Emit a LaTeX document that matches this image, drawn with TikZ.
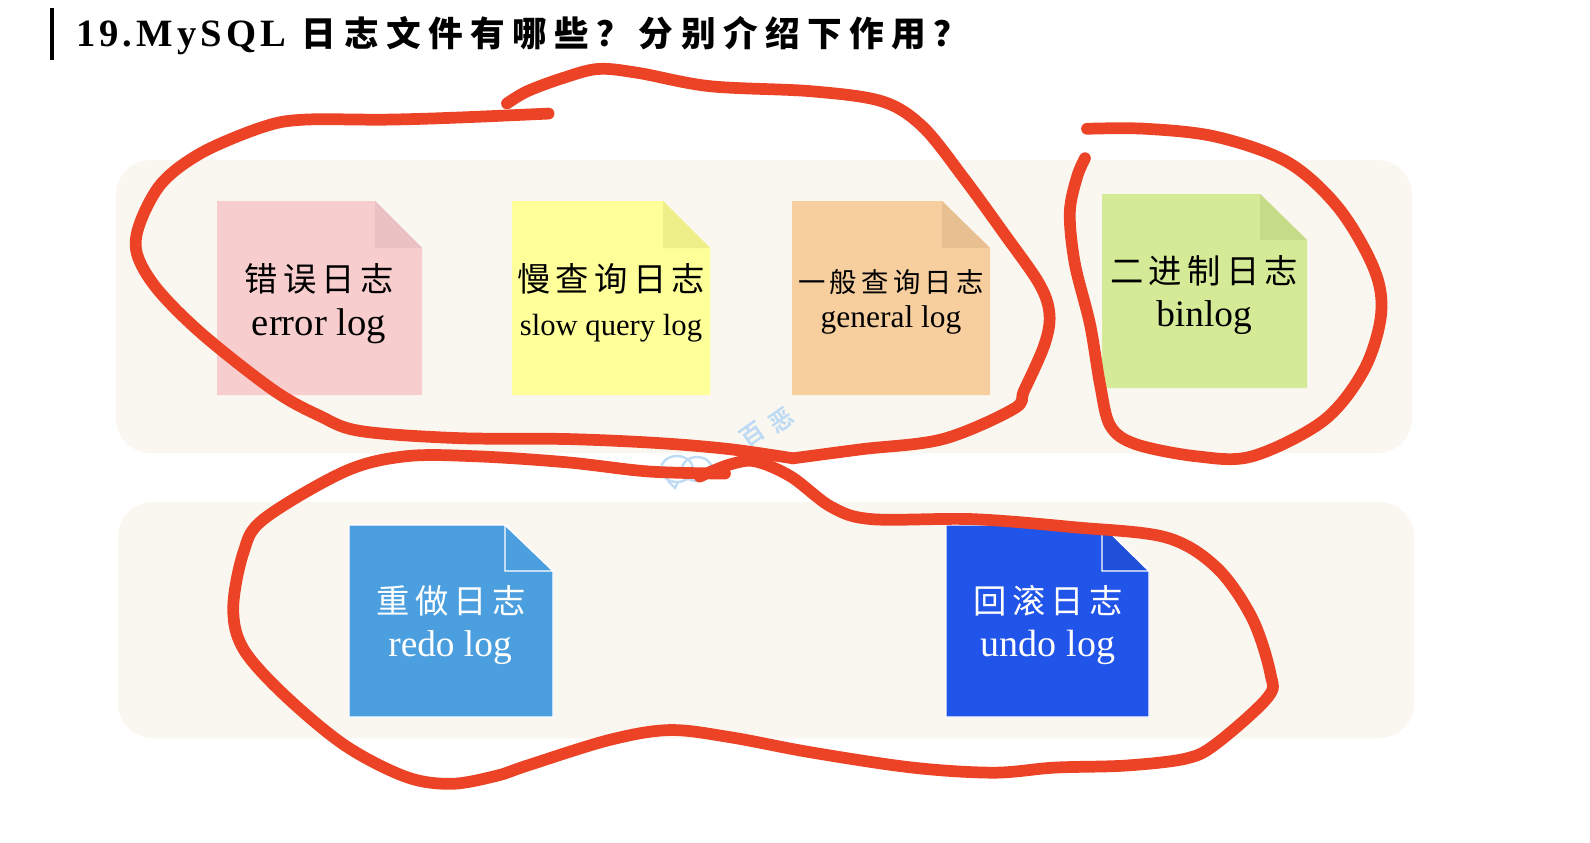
\documentclass[tikz,border=0pt]{standalone}
\usepackage{fontspec}
\setmainfont{Liberation Serif}
\newfontfamily\cjkr{Noto Sans CJK SC}
\newfontfamily\cjkb{Noto Sans CJK SC Bold}
\definecolor{panelc}{HTML}{FAF7F0}
\definecolor{penred}{HTML}{EC4326}
\definecolor{wm}{HTML}{BFDBF4}
\definecolor{docpink}{HTML}{F8CDCE}
\definecolor{docpinkf}{HTML}{EAC0C2}
\definecolor{docyel}{HTML}{FFFF99}
\definecolor{docyelf}{HTML}{EFEF8A}
\definecolor{docora}{HTML}{F7CE9E}
\definecolor{docoraf}{HTML}{E8BF90}
\definecolor{docgrn}{HTML}{D5EA96}
\definecolor{docgrnf}{HTML}{C6DB88}
\definecolor{docblu}{HTML}{4C9FDF}
\definecolor{docdrk}{HTML}{2154E8}
\definecolor{docdrkf}{HTML}{2150D8}
\tikzset{
  panel/.style={fill=panelc,draw=none,rounded corners=26pt},
  pen/.style={draw=penred,line width=8.8pt,line cap=round,line join=round},
  lab/.style={anchor=base,inner sep=0pt,outer sep=0pt},
}
\newcommand{\docpage}[8]{%
  \fill[#7] (#1,#2) -- (#5,#2) -- (#3,#6) -- (#3,#4) -- (#1,#4) -- cycle;
  \fill[#8] (#5,#2) -- (#3,#6) -- (#5,#6) -- cycle;
}
\newcommand{\docpagew}[8]{%
  \filldraw[#7,draw=white,line width=1pt] (#1,#2) -- (#5,#2) -- (#3,#6) -- (#3,#4) -- (#1,#4) -- cycle;
  \filldraw[#8,draw=white,line width=1pt] (#5,#2) -- (#3,#6) -- (#5,#6) -- cycle;
}
\newcommand{\cjktext}[2]{{\cjkr\fontsize{#1}{#1}\selectfont\addfontfeature{LetterSpace=16}#2}}
\newcommand{\entext}[2]{{\fontsize{#1}{#1}\selectfont #2}}
\begin{document}
\begin{tikzpicture}[x=0.75pt,y=-0.75pt]
\useasboundingbox (0,0) rectangle (1590,842);
\fill[white] (0,0) rectangle (1590,842);
\fill[black] (49.5,8) rectangle (53.5,60);
\node[lab,anchor=base west] (title) at (76,47) {\fontsize{29}{29}\selectfont\bfseries\addfontfeature{LetterSpace=10.5}19.MySQL\hspace{12pt}{\cjkb\fontsize{26}{26}\selectfont\addfontfeature{LetterSpace=21.5}日志文件有哪些？分别介绍下作用？}};
\path[panel] (116,160) rectangle (1412,453);
\path[panel] (118,502) rectangle (1414,738);
% watermark
\draw[wm,line width=1.8pt] (677,469) circle[x radius=16,y radius=13];
\draw[wm,line width=1.8pt] (697,469) circle[x radius=15,y radius=12];
\draw[wm,line width=1.8pt] (668,481) -- (675,488) -- (678,482);
\node[lab,anchor=center,rotate=35,text=wm] (wma) at (752,435) {{\cjkb\fontsize{18}{18}\selectfont 百}};
\node[lab,anchor=center,rotate=35,text=wm] (wmb) at (781,420) {{\cjkb\fontsize{18}{18}\selectfont 恶}};
% documents
\docpage{217}{201}{422}{395}{375}{248}{fill=docpink}{fill=docpinkf}
\docpage{512}{201}{710}{395}{663}{248}{fill=docyel}{fill=docyelf}
\docpage{792}{201}{990}{395}{942}{248}{fill=docora}{fill=docoraf}
\docpage{1102}{194}{1307}{388}{1260}{240}{fill=docgrn}{fill=docgrnf}
\docpagew{349}{525}{553}{717}{505}{571}{fill=docblu}{fill=docblu}
\docpagew{946}{525}{1149}{717}{1102}{571}{fill=docdrk}{fill=docdrkf}
% labels
\node[lab] (a1) at (319,291) {\cjktext{25}{错误日志}};
\node[lab] (a2) at (319,335) {\entext{29}{error log}};
\node[lab] (b1) at (611,291) {\cjktext{25}{慢查询日志}};
\node[lab] (b2) at (611,335) {\entext{23}{slow query log}};
\node[lab] (c1) at (891,292) {\cjktext{20.5}{一般查询日志}};
\node[lab] (c2) at (891,327) {\entext{23.6}{general log}};
\node[lab] (d1) at (1204,283) {\cjktext{25}{二进制日志}};
\node[lab] (d2) at (1204,326) {\entext{28}{binlog}};
\node[lab,text=white] (e1) at (451,613) {\cjktext{25}{重做日志}};
\node[lab,text=white] (e2) at (450,656) {\entext{28}{redo log}};
\node[lab,text=white] (f1) at (1048,613) {\cjktext{25}{回滚日志}};
\node[lab,text=white] (f2) at (1048,656) {\entext{28.5}{undo log}};
% pen strokes
\begin{scope}[x=0.7605pt,y=-0.7605pt]
\draw[pen] plot[smooth,tension=0.55] coordinates {(541,112)(450,116)(380,118)(300,118)(260,125)(200,150)(160,180)(138,220)(135,250)(155,285)(200,330)(270,385)(315,410)(355,425)(450,432)(560,433)(650,437)(720,443)(782,452)};
\draw[pen] plot[smooth,tension=0.55] coordinates {(782,452)(850,443)(930,433)(1000,403)(1010,385)(1030,340)(1035,310)(1025,280)(990,230)(950,175)(910,125)(870,100)(800,90)(700,85)(630,72)(590,68)(555,77)(520,90)(500,102)};
\draw[pen] plot[smooth,tension=0.55] coordinates {(1072,127)(1130,127)(1200,135)(1270,160)(1320,205)(1355,265)(1362,310)(1345,365)(1305,415)(1235,450)(1180,450)(1120,438)(1095,420)(1085,380)(1075,320)(1060,260)(1055,210)(1062,175)(1070,156)};
\draw[pen] plot[smooth,tension=0.55] coordinates {(715,467)(640,465)(560,456)(470,450)(400,450)(340,465)(260,512)(240,545)(230,600)(240,640)(280,685)(340,735)(400,766)(445,773)(490,765)(520,755)(600,730)(660,720)(720,727)(800,742)(900,757)(980,762)(1040,757)(1110,755)(1170,748)(1200,733)(1250,688)(1253,665)(1235,610)(1200,560)(1150,530)(1060,520)(960,512)(860,512)(820,500)(780,470)(745,455)(720,458)(690,470)};
\end{scope}
\end{tikzpicture}
\end{document}
